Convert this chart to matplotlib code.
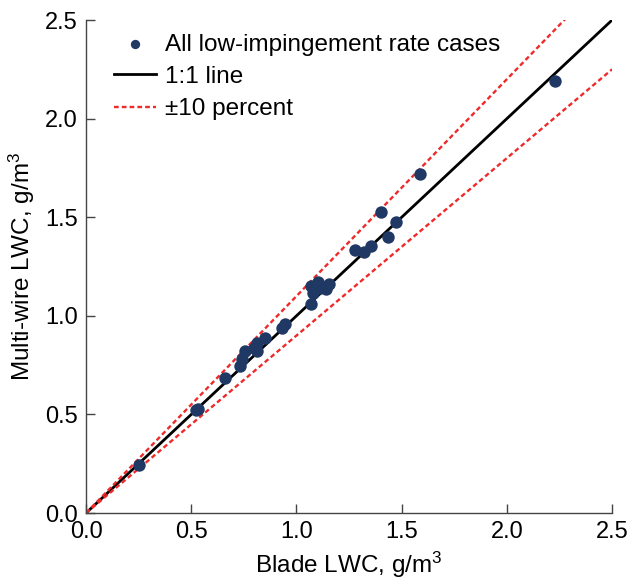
import matplotlib
matplotlib.use("Agg")
import matplotlib.pyplot as plt
import numpy as np

plt.rcParams['font.family'] = ['Liberation Sans', 'DejaVu Sans']
plt.rcParams['mathtext.fontset'] = 'custom'
plt.rcParams['mathtext.rm'] = 'Liberation Sans'
plt.rcParams['mathtext.it'] = 'Liberation Sans:italic'

# Blade vs multi-wire LWC measurements (g/m^3)
blade_lwc = [0.25, 0.52, 0.53, 0.66, 0.73, 0.74, 0.755, 0.80, 0.81, 0.81,
             0.85, 0.93, 0.945, 1.07, 1.08, 1.07, 1.10, 1.11, 1.14, 1.155,
             1.28, 1.32, 1.355, 1.40, 1.435, 1.475, 1.585, 2.23]
multiwire_lwc = [0.245, 0.52, 0.525, 0.685, 0.745, 0.78, 0.82, 0.835, 0.86, 0.82,
                 0.89, 0.94, 0.96, 1.06, 1.115, 1.15, 1.17, 1.14, 1.135, 1.16,
                 1.335, 1.325, 1.355, 1.525, 1.40, 1.475, 1.72, 2.19]

ref_line = [0.0, 2.5]
tick_vals = [0.0, 0.5, 1.0, 1.5, 2.0, 2.5]
tick_labels = ['0.0', '0.5', '1.0', '1.5', '2.0', '2.5']

fig = plt.figure(figsize=(6.33, 5.80), dpi=100)
ax = fig.add_axes([0.136, 0.1155, 0.831, 0.85])

ax.scatter(blade_lwc, multiwire_lwc, s=80, color='#1F3864', zorder=3,
           label='All low-impingement rate cases', linewidths=0)
ax.plot(ref_line, ref_line, color='black', lw=2.0, label='1:1 line', zorder=2)
ref = np.array(ref_line)
ax.plot(ref, ref * 1.1, color='#EE2A2A', lw=1.7, ls=(0, (2.0, 1.3)),
        label='\u00b110 percent', zorder=2)
ax.plot(ref, ref * 0.9, color='#EE2A2A', lw=1.7, ls=(0, (2.0, 1.3)), zorder=2)

ax.set_xlim(0, 2.5)
ax.set_ylim(0, 2.5)
ax.set_xticks(tick_vals)
ax.set_xticklabels(tick_labels)
ax.set_yticks(tick_vals)
ax.set_yticklabels(tick_labels)

for side in ['top', 'right']:
    ax.spines[side].set_visible(False)
for side in ['left', 'bottom']:
    ax.spines[side].set_color('#444444')
    ax.spines[side].set_linewidth(1.0)

ax.tick_params(direction='in', length=6.5, width=1.0, color='#444444',
               labelsize=17, pad=6)

ax.set_xlabel('Blade LWC, g/m$^3$', fontsize=17.5, labelpad=5)
ax.set_ylabel('Multi-wire LWC, g/m$^3$', fontsize=17.5, labelpad=6)

leg = ax.legend(loc='upper left', frameon=False, fontsize=17.5,
                handlelength=1.7, handletextpad=0.4, labelspacing=0.42,
                markerscale=0.75, bbox_to_anchor=(0.035, 0.992),
                borderaxespad=0.0)

fig.savefig('out.png', dpi=100)
